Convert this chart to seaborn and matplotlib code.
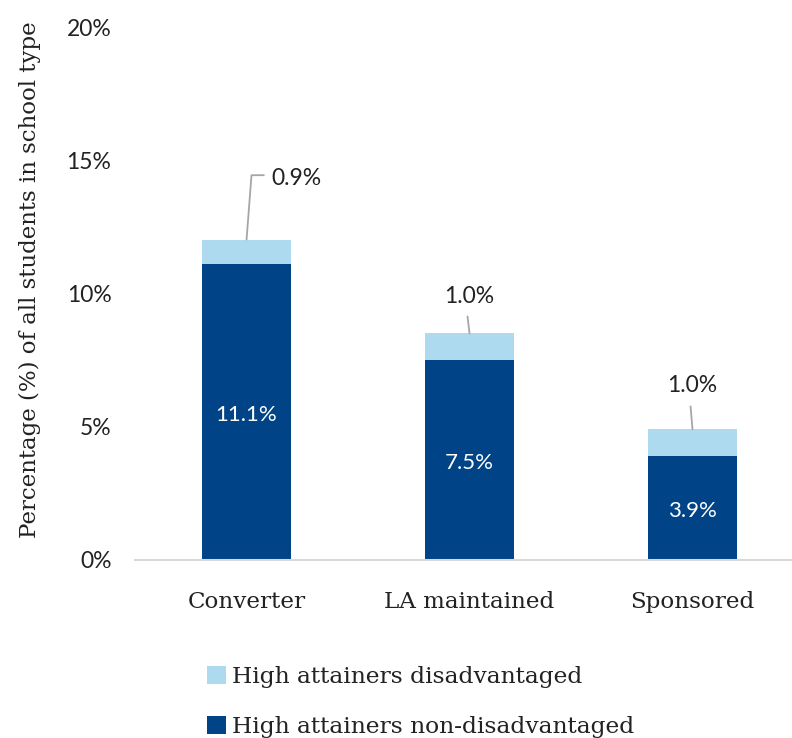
import matplotlib
matplotlib.use("Agg")
import matplotlib.pyplot as plt
import seaborn as sns
import pandas as pd
import numpy as np
from matplotlib.patches import Patch

categories = ["Converter", "LA maintained", "Sponsored"]
non_disadvantaged = [11.1, 7.5, 3.9]
disadvantaged = [0.9, 1.0, 1.0]
yticks = [0, 5, 10, 15, 20]
ytick_labels = ["0%", "5%", "10%", "15%", "20%"]
series_names = ["High attainers disadvantaged", "High attainers non-disadvantaged"]

DARK = "#004387"
LIGHT = "#ADDAEF"
FONT = ["DejaVu Serif"]
NUMFONT = ["Lato", "DejaVu Sans"]
TXT = "#222222"

sns.set_theme(style="white")
plt.rcParams["font.family"] = FONT

df = pd.DataFrame({
    "category": categories,
    "dark": non_disadvantaged,
    "light": disadvantaged,
})
df["total"] = df["dark"] + df["light"]

fig = plt.figure(figsize=(7.92, 7.38), dpi=100)
ax = fig.add_axes([135 / 792, (738 - 560) / 738, 1 - 135 / 792, (560 - 27) / 738])

sns.barplot(data=df, x="category", y="total", color=LIGHT, width=0.4,
            saturation=1, ax=ax, edgecolor="none", linewidth=0)
sns.barplot(data=df, x="category", y="dark", color=DARK, width=0.4,
            saturation=1, ax=ax, edgecolor="none", linewidth=0)

ax.set_ylim(0, 20)
ax.set_xlim(-0.5, 2.446)
ax.set_yticks(yticks)
ax.set_yticklabels(ytick_labels, fontsize=16.5, color=TXT, family=NUMFONT)
ax.tick_params(axis="y", length=0, pad=17)
ax.tick_params(axis="x", length=0, pad=22, labelsize=16.6, labelcolor=TXT)
ax.set_xlabel("")
ax.set_ylabel("Percentage (%) of all students in school type", fontsize=16.5,
              color=TXT)
ax.yaxis.set_label_coords(-0.143, 0.525)
for s in ["top", "right", "left"]:
    ax.spines[s].set_visible(False)
ax.spines["bottom"].set_color("#D9D9D9")
ax.spines["bottom"].set_linewidth(1.5)

# inner labels
for i, v in enumerate(non_disadvantaged):
    ax.text(i, v / 2 - 0.1, f"{v:.1f}%", ha="center", va="center",
            color="white", fontsize=16, family=NUMFONT)

# leader lines and top labels
px = 20 / 533  # data units per pixel (y)
xu = 2.946 / 657  # data units per pixel (x)
tot = df["total"].tolist()
# Converter: bent leader
ax.plot([0, 5 * xu, 18 * xu], [tot[0], tot[0] + 65 * px, tot[0] + 65 * px],
        color="#A6A6A6", lw=1.3, solid_capstyle="butt")
ax.text(25 * xu, tot[0] + 62 * px, f"{disadvantaged[0]:.1f}%", ha="left",
        va="center", fontsize=16.5, color=TXT, family=NUMFONT)
# others: short vertical leaders
for i, gap_line, gap_lab in [(1, 17, 37), (2, 23, 44)]:
    ax.plot([i, i - 2 * xu], [tot[i], tot[i] + gap_line * px],
            color="#A6A6A6", lw=1.3)
    ax.text(i, tot[i] + gap_lab * px, f"{disadvantaged[i]:.1f}%", ha="center",
            va="center", fontsize=16.5, color=TXT, family=NUMFONT)

handles = [Patch(facecolor=LIGHT, edgecolor="none"),
           Patch(facecolor=DARK, edgecolor="none")]
fig.legend(handles, series_names, loc="upper left",
           bbox_to_anchor=(198 / 792, 1 - 657 / 738), frameon=False,
           fontsize=16.8, handlelength=0.8, handleheight=0.8, handletextpad=0.25,
           labelspacing=1.2, borderaxespad=0, labelcolor=TXT)

fig.savefig("out.png", dpi=100)
